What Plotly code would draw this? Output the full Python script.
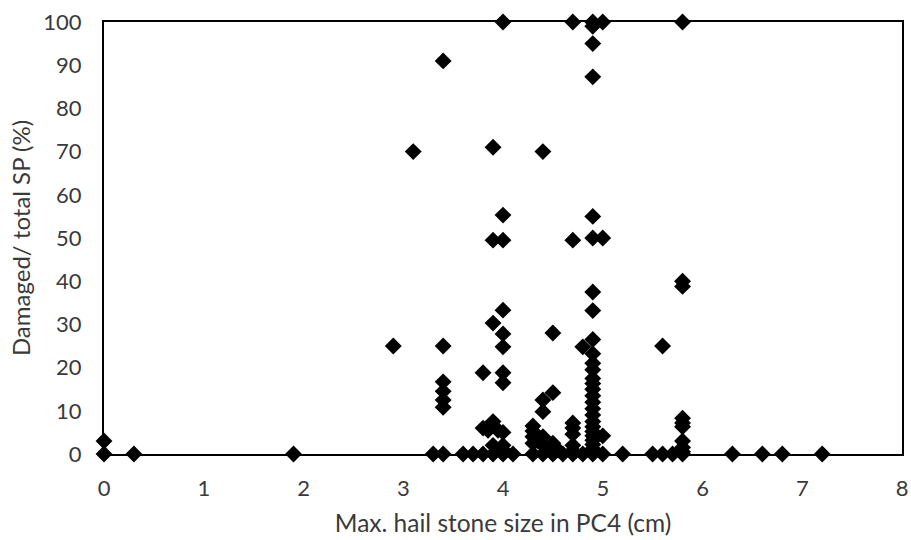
import plotly.graph_objects as go

# Max. hail stone size in PC4 (cm)
hail_size = [
    0, 0, 0.3, 1.9,
    2.9, 3.1,
    3.3, 3.4, 3.4, 3.4, 3.4, 3.4, 3.4, 3.4,
    3.6, 3.7, 3.8, 3.8, 3.8,
    3.9, 3.9, 3.9, 3.9, 3.9, 3.9, 3.85, 3.95,
    4.0, 4.0, 4.0, 4.0, 4.0, 4.0, 4.0, 4.0, 4.0, 4.0, 4.0, 4.0,
    4.1,
    4.3, 4.3, 4.3, 4.3, 4.3, 4.35,
    4.4, 4.4, 4.4, 4.4, 4.4, 4.4,
    4.5, 4.5, 4.5, 4.5, 4.5, 4.55, 4.6,
    4.7, 4.7, 4.7, 4.7, 4.7, 4.7, 4.7, 4.7,
    4.8, 4.8,
    4.9, 4.9, 4.9, 4.9, 4.9, 4.9, 4.9, 4.9, 4.9, 4.9, 4.9, 4.9, 4.9, 4.9,
    4.9, 4.9, 4.9, 4.9, 4.9, 4.9, 4.9, 4.9, 4.9, 4.9, 4.9, 4.9, 4.9, 4.9,
    5.0, 5.0, 5.0, 5.0,
    5.2, 5.5, 5.6, 5.6, 5.7,
    5.8, 5.8, 5.8, 5.8, 5.8, 5.8, 5.8, 5.8, 5.8, 5.8,
    6.3, 6.6, 6.8, 7.2,
]

# Damaged / total SP (%)
damaged_pct = [
    3, 0, 0, 0,
    25, 70,
    0, 0, 91, 25, 16.7, 14.5, 12.5, 10.8,
    0, 0, 0, 18.8, 6,
    0, 71, 49.5, 30.3, 7.5, 2, 5.5, 5.5,
    0, 100, 55.3, 49.5, 33.3, 27.8, 24.8, 18.8, 16.5, 5, 2, 1,
    0,
    0, 6.5, 5.3, 4, 2.5, 3,
    0, 70, 12.5, 9.8, 4, 2,
    0, 28, 14.2, 2.5, 1, 1, 0,
    0, 100, 49.5, 7.2, 6, 4.6, 2, 0.8,
    0, 24.8,
    0, 100, 99, 95, 87.3, 55, 50, 37.5, 33.2, 26.5, 23.2, 21, 19.5, 17.5,
    16.3, 15, 13.5, 12, 10.5, 9, 7.5, 6.3, 5.2, 4.2, 3.2, 2.2, 1.2, 0.5,
    100, 50, 4.2, 0,
    0, 0, 0, 25, 0,
    100, 40, 38.8, 8.3, 7.2, 6.3, 3, 1.5, 0, 0.5,
    0, 0, 0, 0,
]

x_ticks = [0, 1, 2, 3, 4, 5, 6, 7, 8]
y_ticks = [0, 10, 20, 30, 40, 50, 60, 70, 80, 90, 100]

FONT = "Lato, 'Open Sans', sans-serif"
TXT = "#3a3a3a"

fig = go.Figure(
    go.Scatter(
        x=hail_size,
        y=damaged_pct,
        mode="markers",
        marker=dict(symbol="diamond", size=13, color="black", line=dict(width=0)),
        cliponaxis=False,
        showlegend=False,
    )
)

fig.update_layout(
    width=911,
    height=540,
    margin=dict(l=104, r=9, t=22, b=86),
    paper_bgcolor="white",
    plot_bgcolor="white",
    font=dict(family=FONT, size=22, color=TXT),
)

fig.update_xaxes(
    range=[0, 8],
    tickvals=x_ticks,
    showgrid=False,
    zeroline=False,
    showline=True,
    mirror=True,
    linecolor="black",
    linewidth=2,
    ticks="",
    ticklabelstandoff=14,
    automargin=False,
    tickfont=dict(size=22, color=TXT),
    title=dict(text="Max. hail stone size in PC4 (cm)", font=dict(size=24.5, color=TXT), standoff=14),
)
fig.update_yaxes(
    range=[0, 100],
    tickvals=y_ticks,
    showgrid=False,
    zeroline=False,
    showline=True,
    mirror=True,
    linecolor="black",
    linewidth=2,
    ticks="",
    ticklabelstandoff=16,
    automargin=False,
    tickfont=dict(size=22, color=TXT),
    title=dict(text="Damaged/ total SP (%)", font=dict(size=24, color=TXT), standoff=6),
)

fig.write_html("out.html")
